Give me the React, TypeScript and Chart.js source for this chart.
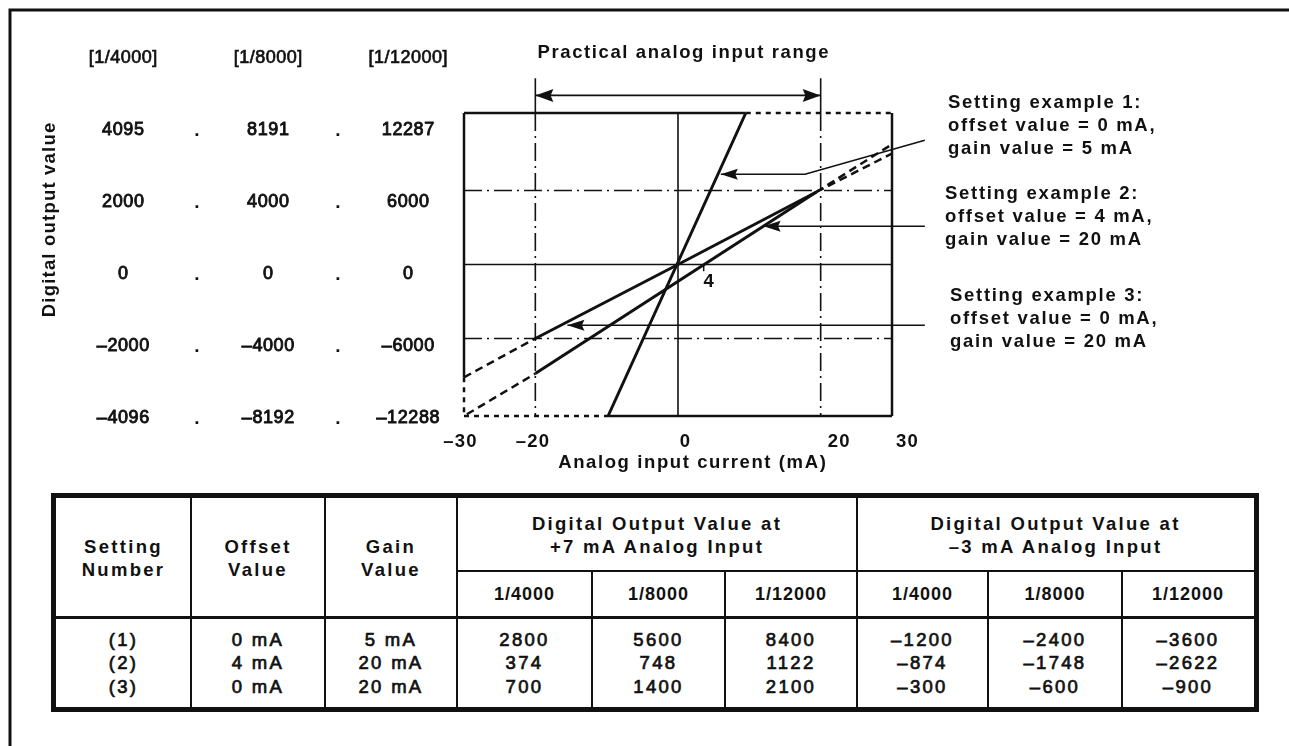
import React, { useEffect, useRef } from "react";
import { Chart, registerables } from "chart.js";

Chart.register(...registerables);

// ---------- data ----------
const X_MIN = -30;
const X_MAX = 30;
const Y_MIN = -4096;
const Y_MAX = 4095;
const X_TICKS = [-30, -20, 0, 20, 30];

const RESOLUTIONS = ["[1/4000]", "[1/8000]", "[1/12000]"];
const DIGITAL_4000 = ["4095", "2000", "0", "–2000", "–4096"];
const DIGITAL_8000 = ["8191", "4000", "0", "–4000", "–8192"];
const DIGITAL_12000 = ["12287", "6000", "0", "–6000", "–12288"];

const GRID_LEVELS = [2000, -2000];
const RANGE_LIMITS = [-20, 20];
const RANGE_ARROW_Y = 4570;
const RANGE_GUIDE_TOP = 5034;

// setting example 1 (offset 0 mA, gain 5 mA)
const SETTING1_LINE = [
  { x: -9.8, y: -4096 },
  { x: 9.5, y: 4095 },
];
// setting example 2 (offset 4 mA, gain 20 mA)
const SETTING2_LOW_EXT = [
  { x: -29.6, y: -4050 },
  { x: -20, y: -2950 },
];
const SETTING2_SOLID = [
  { x: -20, y: -2950 },
  { x: 19.4, y: 1960 },
];
const SETTING2_HIGH_EXT = [
  { x: 19.4, y: 1960 },
  { x: 30, y: 3250 },
];
// setting example 3 (offset 0 mA, gain 20 mA)
const SETTING3_LOW_EXT = [
  { x: -30, y: -3050 },
  { x: -20, y: -2000 },
];
const SETTING3_SOLID = [
  { x: -20, y: -2000 },
  { x: 0, y: 0 },
  { x: 19.4, y: 1960 },
];
const SETTING3_HIGH_EXT = [
  { x: 19.4, y: 1960 },
  { x: 30, y: 3000 },
];

const OFFSET_MARK = [
  { x: 3.6, y: 0 },
  { x: 3.6, y: -180 },
];
const OFFSET_LABEL = { x: 4, y: 0, text: "4" };

const ANNOT1 = [
  { x: 34.6, y: 3358 },
  { x: 17.8, y: 2439 },
  { x: 6.0, y: 2439 },
];
const ANNOT2 = [
  { x: 34.6, y: 1033 },
  { x: 12.0, y: 1033 },
];
const ANNOT3 = [
  { x: 34.6, y: -1644 },
  { x: -15.5, y: -1644 },
];

const NOTE1 = ["Setting example 1:", "offset value = 0 mA,", "gain value = 5 mA"];
const NOTE2 = ["Setting example 2:", "offset value = 4 mA,", "gain value = 20 mA"];
const NOTE3 = ["Setting example 3:", "offset value = 0 mA,", "gain value = 20 mA"];

const Y_TITLE = "Digital output value";
const X_TITLE = "Analog input current (mA)";
const RANGE_TITLE = "Practical analog input range";

// table
const SETTING_NUMBERS = ["(1)", "(2)", "(3)"];
const OFFSET_VALUES = ["0 mA", "4 mA", "0 mA"];
const GAIN_VALUES = ["5 mA", "20 mA", "20 mA"];
const TABLE_RES = ["1/4000", "1/8000", "1/12000"];
const AT_PLUS7_4000 = [2800, 374, 700];
const AT_PLUS7_8000 = [5600, 748, 1400];
const AT_PLUS7_12000 = [8400, 1122, 2100];
const AT_MINUS3_4000 = [-1200, -874, -300];
const AT_MINUS3_8000 = [-2400, -1748, -600];
const AT_MINUS3_12000 = [-3600, -2622, -900];

// ---------- style ----------
const INK = "#111";
const FONT = '"Liberation Sans", Arial, Helvetica, sans-serif';
const DASH_DOT = [18, 5, 2, 5];
const DASHED = [8, 5];
const DOTTED = [5, 5];
const X_TICK_NUDGE = [-4, -3, 7, 18, 15];

const fmt = (v: number) => (v < 0 ? "–" + Math.abs(v) : String(v));

const seg = (data: { x: number; y: number }[], width: number, dash: number[] = []) => ({
  data,
  showLine: true,
  borderColor: INK,
  backgroundColor: INK,
  borderWidth: width,
  borderDash: dash,
  pointRadius: 0,
  pointHoverRadius: 0,
  fill: false,
  tension: 0,
  clip: false as any,
});

function buildDatasets() {
  const ds: any[] = [];
  // box
  ds.push(seg([{ x: X_MIN, y: Y_MAX }, { x: SETTING1_LINE[1].x, y: Y_MAX }], 2.5));
  ds.push(seg([{ x: SETTING1_LINE[1].x, y: Y_MAX }, { x: X_MAX, y: Y_MAX }], 2.5, DOTTED));
  ds.push(seg([{ x: X_MAX, y: Y_MAX }, { x: X_MAX, y: Y_MIN }], 2.5));
  ds.push(seg([{ x: SETTING1_LINE[0].x, y: Y_MIN }, { x: X_MAX, y: Y_MIN }], 2.5));
  ds.push(seg([{ x: X_MIN, y: Y_MIN }, { x: SETTING1_LINE[0].x, y: Y_MIN }], 2.5, DOTTED));
  ds.push(seg([{ x: X_MIN, y: Y_MAX }, { x: X_MIN, y: SETTING3_LOW_EXT[0].y }], 2.5));
  ds.push(seg([{ x: X_MIN, y: SETTING3_LOW_EXT[0].y }, { x: X_MIN, y: Y_MIN }], 2.5, DOTTED));
  // axes
  ds.push(seg([{ x: X_MIN, y: 0 }, { x: X_MAX, y: 0 }], 1.6));
  ds.push(seg([{ x: 0, y: Y_MAX }, { x: 0, y: Y_MIN }], 1.6));
  // dash-dot grid
  GRID_LEVELS.forEach((lv) => ds.push(seg([{ x: X_MIN, y: lv }, { x: X_MAX, y: lv }], 1.6, DASH_DOT)));
  RANGE_LIMITS.forEach((lim) => {
    ds.push(seg([{ x: lim, y: Y_MAX }, { x: lim, y: Y_MIN }], 1.6, DASH_DOT));
    ds.push(seg([{ x: lim, y: Y_MAX }, { x: lim, y: RANGE_GUIDE_TOP }], 1.6));
  });
  ds.push(seg([{ x: RANGE_LIMITS[0], y: RANGE_ARROW_Y }, { x: RANGE_LIMITS[1], y: RANGE_ARROW_Y }], 1.8));
  // characteristic lines
  ds.push(seg(SETTING1_LINE, 3));
  ds.push(seg(SETTING2_LOW_EXT, 2.5, DASHED));
  ds.push(seg(SETTING2_SOLID, 3));
  ds.push(seg(SETTING2_HIGH_EXT, 2.5, DASHED));
  ds.push(seg(SETTING3_LOW_EXT, 2.5, DASHED));
  ds.push(seg(SETTING3_SOLID, 3));
  ds.push(seg(SETTING3_HIGH_EXT, 2.5, DASHED));
  ds.push(seg(OFFSET_MARK, 1.5));
  // annotations
  ds.push(seg(ANNOT1, 1.6));
  ds.push(seg(ANNOT2, 1.6));
  ds.push(seg(ANNOT3, 1.6));
  return ds;
}

function text(
  ctx: CanvasRenderingContext2D,
  s: string,
  x: number,
  y: number,
  o: { bold?: boolean; size?: number; spacing?: number; align?: CanvasTextAlign; stroke?: number } = {}
) {
  const size = o.size ?? 18.5;
  ctx.font = `${o.bold ? "bold " : ""}${size}px ${FONT}`;
  (ctx as any).letterSpacing = `${o.spacing ?? 0}px`;
  ctx.textAlign = o.align ?? "center";
  ctx.textBaseline = "middle";
  ctx.fillStyle = INK;
  const dx = ctx.textAlign === "center" ? (o.spacing ?? 0) / 2 : 0;
  ctx.fillText(s, x + dx, y);
  if (o.stroke) {
    ctx.strokeStyle = INK;
    ctx.lineWidth = o.stroke;
    ctx.setLineDash([]);
    ctx.strokeText(s, x + dx, y);
  }
}

function arrowHead(
  ctx: CanvasRenderingContext2D,
  tip: { x: number; y: number },
  from: { x: number; y: number },
  len: number,
  half: number
) {
  const a = Math.atan2(tip.y - from.y, tip.x - from.x);
  const bx = tip.x - Math.cos(a) * len;
  const by = tip.y - Math.sin(a) * len;
  const nx = -Math.sin(a) * half;
  const ny = Math.cos(a) * half;
  const mx = tip.x - Math.cos(a) * len * 0.85;
  const my = tip.y - Math.sin(a) * len * 0.85;
  ctx.beginPath();
  ctx.moveTo(tip.x, tip.y);
  ctx.lineTo(bx + nx, by + ny);
  ctx.lineTo(mx, my);
  ctx.lineTo(bx - nx, by - ny);
  ctx.closePath();
  ctx.fillStyle = INK;
  ctx.fill();
}

const decorPlugin = {
  id: "decor",
  beforeDraw(chart: any) {
    const ctx = chart.ctx as CanvasRenderingContext2D;
    ctx.save();
    ctx.fillStyle = "#fff";
    ctx.fillRect(0, 0, chart.width, chart.height);
    ctx.restore();
  },
  afterDraw(chart: any) {
    const ctx = chart.ctx as CanvasRenderingContext2D;
    const xs = chart.scales.x;
    const ys = chart.scales.y;
    const area = chart.chartArea;
    const P = (p: { x: number; y: number }) => ({ x: xs.getPixelForValue(p.x), y: ys.getPixelForValue(p.y) });
    ctx.save();

    // outer frame (top and left edges)
    ctx.strokeStyle = INK;
    ctx.lineWidth = 3;
    ctx.setLineDash([]);
    ctx.beginPath();
    ctx.moveTo(10, chart.height);
    ctx.lineTo(10, 10);
    ctx.lineTo(chart.width, 10);
    ctx.stroke();

    // left value columns
    const colX = [123, 268, 408];
    const dotX = [197, 338];
    RESOLUTIONS.forEach((r, i) => text(ctx, r, colX[i], 58, { size: 18, spacing: 0.5, stroke: 0.7 }));
    const rowTop = area.top + 17;
    const rowBottom = area.bottom + 2;
    const cols = [DIGITAL_4000, DIGITAL_8000, DIGITAL_12000];
    for (let r = 0; r < 5; r++) {
      const y = rowTop + ((rowBottom - rowTop) * r) / 4;
      cols.forEach((c, i) => text(ctx, c[r], colX[i], y, { size: 18, spacing: 0.6, stroke: 0.9 }));
      dotX.forEach((dx) => text(ctx, ".", dx, y + 1, { bold: true, size: 19 }));
    }

    // y title
    ctx.save();
    ctx.translate(50, 220);
    ctx.rotate(-Math.PI / 2);
    text(ctx, Y_TITLE, 0, 0, { bold: true, spacing: 1.2 });
    ctx.restore();

    // x ticks & titles
    X_TICKS.forEach((v, i) => {
      const t = v < 0 ? "–" + Math.abs(v) : String(v);
      text(ctx, t, xs.getPixelForValue(v) + X_TICK_NUDGE[i], area.bottom + 26, { bold: true, spacing: 1.2 });
    });
    text(ctx, X_TITLE, (area.left + area.right) / 2 + 14, area.bottom + 47, { bold: true, spacing: 1.6 });
    text(ctx, RANGE_TITLE, (area.left + area.right) / 2 + 5, 53, { bold: true, spacing: 1.6 });

    // offset label "4"
    const ol = P(OFFSET_LABEL);
    text(ctx, OFFSET_LABEL.text, ol.x + 2, ol.y + 17, { bold: true });

    // range arrow heads
    const rl = P({ x: RANGE_LIMITS[0], y: RANGE_ARROW_Y });
    const rr = P({ x: RANGE_LIMITS[1], y: RANGE_ARROW_Y });
    arrowHead(ctx, rl, rr, 18, 6.5);
    arrowHead(ctx, rr, rl, 18, 6.5);

    // annotation arrow heads
    [ANNOT1, ANNOT2, ANNOT3].forEach((a) => {
      const tip = P(a[a.length - 1]);
      const from = P(a[a.length - 2]);
      arrowHead(ctx, tip, from, 17, 5.5);
    });

    // notes
    const notes: [string[], number, number][] = [
      [NOTE1, 948, 103],
      [NOTE2, 945, 194],
      [NOTE3, 950, 296],
    ];
    notes.forEach(([lines, x, y0]) =>
      lines.forEach((l, i) => text(ctx, l, x, y0 + i * 23, { bold: true, spacing: 1.7, align: "left" }))
    );

    ctx.restore();
  },
};

// ---------- table ----------
const COLS = [0, 135, 269, 401, 536, 669, 801, 932, 1066, 1198];
const INNER_H = 209;
const HEAD1 = 73;
const HEAD2 = 119;

const cellStyle = (x0: number, x1: number, y0: number, y1: number, extra: React.CSSProperties = {}): React.CSSProperties => ({
  position: "absolute",
  left: x0,
  top: y0,
  width: x1 - x0,
  height: y1 - y0,
  display: "flex",
  alignItems: "center",
  justifyContent: "center",
  textAlign: "center",
  lineHeight: "23px",
  fontSize: 18.5,
  color: INK,
  ...extra,
});

const HEAD: React.CSSProperties = { fontWeight: "bold", letterSpacing: "2.3px" };
const SUB: React.CSSProperties = { fontWeight: "bold", letterSpacing: "1px", fontSize: 18 };
const BODY: React.CSSProperties = { letterSpacing: "2.3px", WebkitTextStroke: "0.7px " + INK, lineHeight: "23.5px" } as any;

function Lines({ items }: { items: string[] }) {
  return (
    <div>
      {items.map((s, i) => (
        <div key={i}>{s}</div>
      ))}
    </div>
  );
}

function DataTable() {
  const bodyCols = [
    SETTING_NUMBERS,
    OFFSET_VALUES,
    GAIN_VALUES,
    AT_PLUS7_4000.map(fmt),
    AT_PLUS7_8000.map(fmt),
    AT_PLUS7_12000.map(fmt),
    AT_MINUS3_4000.map(fmt),
    AT_MINUS3_8000.map(fmt),
    AT_MINUS3_12000.map(fmt),
  ];
  const fullLines = [1, 2, 3, 6];
  return (
    <div
      style={{
        position: "absolute",
        left: 51,
        top: 493,
        width: 1208,
        height: 219,
        boxSizing: "border-box",
        border: "5px solid " + INK,
        fontFamily: FONT,
        background: "#fff",
      }}
    >
      {COLS.slice(1, -1).map((b, i) => {
        const idx = i + 1;
        const top = fullLines.includes(idx) ? 0 : HEAD1;
        return (
          <div key={"v" + i} style={{ position: "absolute", left: b - 1, top, width: 2, height: INNER_H - top, background: INK }} />
        );
      })}
      <div style={{ position: "absolute", left: COLS[3], top: HEAD1 - 1, width: COLS[9] - COLS[3], height: 2, background: INK }} />
      <div style={{ position: "absolute", left: 0, top: HEAD2 - 1, width: COLS[9], height: 2.5, background: INK }} />

      <div style={cellStyle(COLS[0], COLS[1], 0, HEAD2, HEAD)}>
        <Lines items={["Setting", "Number"]} />
      </div>
      <div style={cellStyle(COLS[1], COLS[2], 0, HEAD2, HEAD)}>
        <Lines items={["Offset", "Value"]} />
      </div>
      <div style={cellStyle(COLS[2], COLS[3], 0, HEAD2, HEAD)}>
        <Lines items={["Gain", "Value"]} />
      </div>
      <div style={cellStyle(COLS[3], COLS[6], 0, HEAD1, HEAD)}>
        <Lines items={["Digital Output Value at", "+7 mA Analog Input"]} />
      </div>
      <div style={cellStyle(COLS[6], COLS[9], 0, HEAD1, HEAD)}>
        <Lines items={["Digital Output Value at", "–3 mA Analog Input"]} />
      </div>
      {[0, 1, 2, 3, 4, 5].map((k) => (
        <div key={"s" + k} style={cellStyle(COLS[3 + k], COLS[4 + k], HEAD1, HEAD2, SUB)}>
          {TABLE_RES[k % 3]}
        </div>
      ))}
      {bodyCols.map((c, k) => (
        <div key={"b" + k} style={cellStyle(COLS[k], COLS[k + 1], HEAD2 + 2, INNER_H, BODY)}>
          <Lines items={c} />
        </div>
      ))}
    </div>
  );
}

export default function App() {
  const ref = useRef<HTMLCanvasElement>(null);
  useEffect(() => {
    if (!ref.current) return;
    const chart = new Chart(ref.current, {
      type: "scatter",
      data: { datasets: buildDatasets() },
      options: {
        responsive: false,
        animation: false,
        events: [],
        layout: { padding: { left: 464, right: 1289 - 892, top: 113, bottom: 746 - 416 } },
        scales: {
          x: { type: "linear", min: X_MIN, max: X_MAX, display: false },
          y: { type: "linear", min: Y_MIN, max: Y_MAX, display: false },
        },
        plugins: { legend: { display: false }, tooltip: { enabled: false } },
      } as any,
      plugins: [decorPlugin],
    });
    return () => chart.destroy();
  }, []);
  return (
    <div style={{ position: "fixed", left: 0, top: 0, width: 1289, height: 746, background: "#fff", overflow: "hidden" }}>
      <canvas ref={ref} width={1289} height={746} style={{ position: "absolute", left: 0, top: 0 }} />
      <DataTable />
    </div>
  );
}
